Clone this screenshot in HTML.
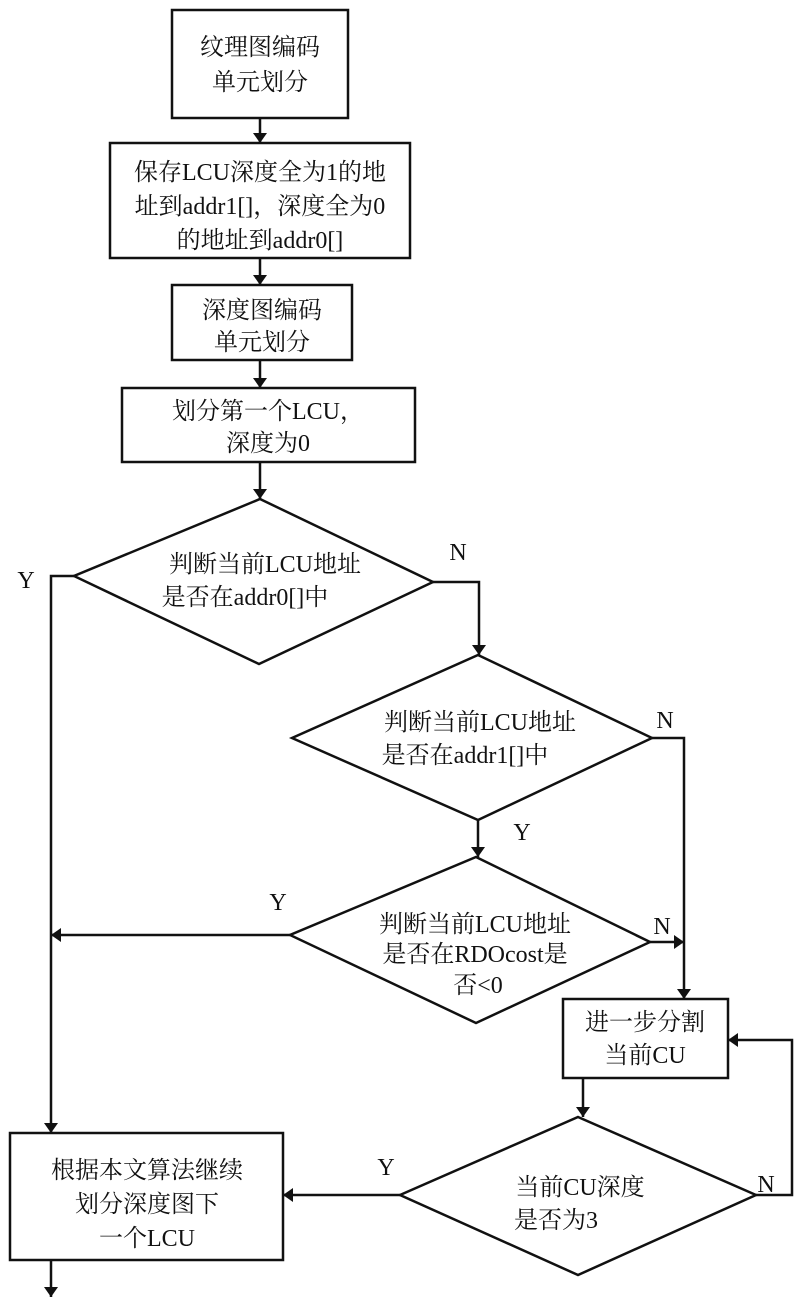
<!DOCTYPE html>
<html><head><meta charset="utf-8"><style>
html,body{margin:0;padding:0;background:#fff}
svg{display:block}
text{font-family:"Liberation Serif","Noto Serif CJK SC",serif;font-size:24px;fill:#111;text-anchor:middle}
</style></head><body>
<svg width="800" height="1299" viewBox="0 0 800 1299" xmlns="http://www.w3.org/2000/svg">
<defs><marker id="a" markerWidth="10" markerHeight="14" refX="10" refY="7" orient="auto" markerUnits="userSpaceOnUse"><path d="M0,0 L10,7 L0,14 z" fill="#111"/></marker></defs>
<g stroke="#111" stroke-width="2.5" fill="none">
<rect x="172" y="10" width="176" height="108"/>
<rect x="110" y="143" width="300" height="115"/>
<rect x="172" y="285" width="180" height="75"/>
<rect x="122" y="388" width="293" height="74"/>
<rect x="563" y="999" width="165" height="79"/>
<rect x="10" y="1133" width="273" height="127"/>
<polygon points="260,499 433,582 259,664 74,576"/>
<polygon points="478,655 652,738 478,820 292,738"/>
<polygon points="476,857 650,942 476,1023 290,935"/>
<polygon points="578,1117 756,1195 578,1275 400,1195"/>
<line x1="260" y1="118" x2="260" y2="143" marker-end="url(#a)"/>
<line x1="260" y1="258" x2="260" y2="285" marker-end="url(#a)"/>
<line x1="260" y1="360" x2="260" y2="388" marker-end="url(#a)"/>
<line x1="260" y1="462" x2="260" y2="499" marker-end="url(#a)"/>
<polyline points="74,576 51,576 51,1133" marker-end="url(#a)"/>
<polyline points="433,582 479,582 479,655" marker-end="url(#a)"/>
<polyline points="652,738 684,738 684,999" marker-end="url(#a)"/>
<line x1="478" y1="820" x2="478" y2="857" marker-end="url(#a)"/>
<line x1="290" y1="935" x2="51" y2="935" marker-end="url(#a)"/>
<line x1="650" y1="942" x2="684" y2="942" marker-end="url(#a)"/>
<line x1="583" y1="1078" x2="583" y2="1117" marker-end="url(#a)"/>
<polyline points="756,1195 792,1195 792,1040 728,1040" marker-end="url(#a)"/>
<line x1="400" y1="1195" x2="283" y2="1195" marker-end="url(#a)"/>
<line x1="51" y1="1260" x2="51" y2="1297" marker-end="url(#a)"/>
</g>
<text x="260" y="55">纹理图编码</text><text x="260" y="90">单元划分</text>
<text x="260" y="180">保存LCU深度全为1的地</text><text x="260" y="214">址到addr1[]，深度全为0</text><text x="260" y="248">的地址到addr0[]</text>
<text x="262" y="318">深度图编码</text><text x="262" y="350">单元划分</text>
<text x="268" y="419">划分第一个LCU，</text><text x="268" y="451">深度为0</text>
<text x="265" y="572">判断当前LCU地址</text><text x="245" y="605">是否在addr0[]中</text>
<text x="480" y="730">判断当前LCU地址</text><text x="465" y="763">是否在addr1[]中</text>
<text x="475" y="932">判断当前LCU地址</text><text x="475" y="962">是否在RDOcost是</text><text x="478" y="993">否&lt;0</text>
<text x="645" y="1030">进一步分割</text><text x="645" y="1063">当前CU</text>
<text x="580" y="1195">当前CU深度</text><text x="556" y="1228">是否为3</text>
<text x="147" y="1178">根据本文算法继续</text><text x="147" y="1212">划分深度图下</text><text x="147" y="1246">一个LCU</text>
<text x="26" y="588">Y</text><text x="458" y="560">N</text>
<text x="665" y="728">N</text><text x="522" y="840">Y</text>
<text x="278" y="910">Y</text><text x="662" y="934">N</text>
<text x="386" y="1175">Y</text><text x="766" y="1192">N</text>
</svg>
</body></html>
